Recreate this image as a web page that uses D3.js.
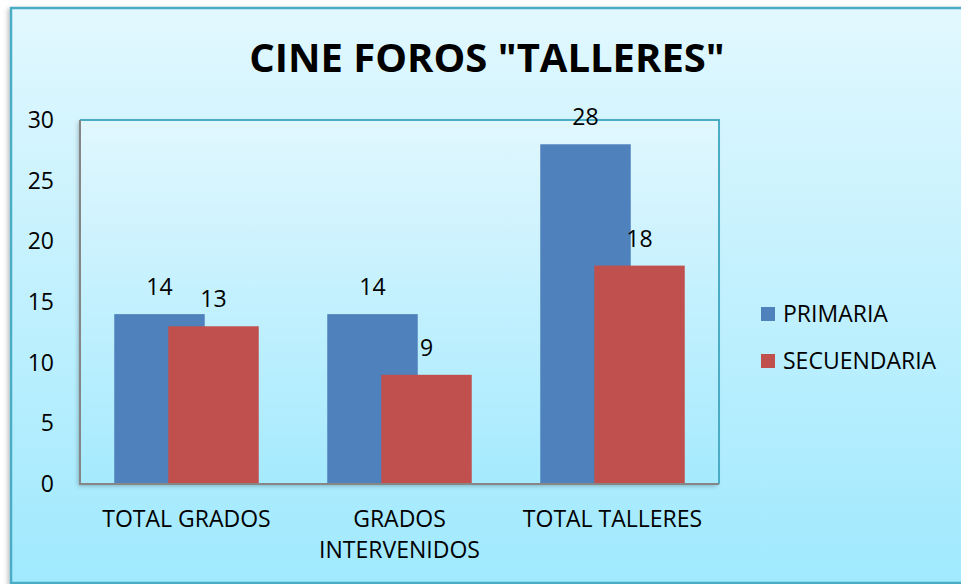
<!DOCTYPE html>
<html>
<head>
<meta charset="utf-8">
<script src="https://cdn.jsdelivr.net/npm/d3@7"></script>
<style>
  body { margin: 0; background: #fff; }
  text { font-family: 'Open Sans', sans-serif; fill: #000; }
</style>
</head>
<body>
<svg id="chart" width="961" height="584"></svg>
<script>
// data
const categories = ['TOTAL GRADOS', 'GRADOS INTERVENIDOS', 'TOTAL TALLERES'];
const seriesNames = ['PRIMARIA', 'SECUENDARIA'];
const primaria = [14, 14, 28];
const secundaria = [13, 9, 18];
const yTicks = [0, 5, 10, 15, 20, 25, 30];
const colors = ['#4f81bd', '#c0504d'];
const title = 'CINE FOROS "TALLERES"';

const svg = d3.select('#chart');
const plot = { left: 80, right: 719, top: 120, bottom: 484 };

const defs = svg.append('defs');
const bg = defs.append('linearGradient').attr('id', 'bg').attr('x1', 0).attr('y1', 0).attr('x2', 0).attr('y2', 1);
bg.append('stop').attr('offset', '0%').attr('stop-color', '#e2f8fe');
bg.append('stop').attr('offset', '100%').attr('stop-color', '#a0e9fe');

const pg = defs.append('linearGradient').attr('id', 'pg').attr('x1', 0).attr('y1', 0).attr('x2', 0).attr('y2', 1);
pg.append('stop').attr('offset', '0%').attr('stop-color', '#e1f7fe');
pg.append('stop').attr('offset', '100%').attr('stop-color', '#a5eafe');

const shadow = defs.append('filter').attr('id', 'shadow').attr('x', '-5%').attr('y', '-5%').attr('width', '110%').attr('height', '110%');
shadow.append('feDropShadow').attr('dx', -2).attr('dy', 2).attr('stdDeviation', 2)
  .attr('flood-color', '#000').attr('flood-opacity', 0.25);

// chart area
svg.append('rect')
  .attr('x', 11).attr('y', 8).attr('width', 960).attr('height', 575)
  .attr('fill', 'url(#bg)')
  .attr('stroke', '#4bacc6').attr('stroke-width', 2.5)
  .attr('filter', 'url(#shadow)');

svg.append('text')
  .attr('x', 487).attr('y', 72)
  .attr('text-anchor', 'middle')
  .style('font-size', '40px').style('font-weight', 'bold')
  .text(title);

// plot area
svg.append('rect')
  .attr('x', plot.left).attr('y', plot.top)
  .attr('width', plot.right - plot.left).attr('height', plot.bottom - plot.top)
  .attr('fill', 'url(#pg)')
  .attr('filter', 'url(#shadow)');
svg.append('path')
  .attr('d', `M${plot.left},${plot.top}H${plot.right}V${plot.bottom}`)
  .attr('fill', 'none').attr('stroke', '#4bacc6').attr('stroke-width', 2);

const x = d3.scaleBand().domain(categories).range([plot.left, plot.right]);
const y = d3.scaleLinear().domain([0, 30]).range([plot.bottom, plot.top]);
const offset = d3.scaleOrdinal().domain(seriesNames).range([-27, 27]);
const barW = 90.5;

const rows = categories.map((c, i) => ({ cat: c, values: [primaria[i], secundaria[i]] }));

seriesNames.forEach((s, si) => {
  const g = svg.append('g');
  g.selectAll('rect')
    .data(rows)
    .join('rect')
    .attr('x', d => x(d.cat) + x.bandwidth() / 2 + offset(s) - barW / 2)
    .attr('y', d => y(d.values[si]))
    .attr('width', barW)
    .attr('height', d => y(0) - y(d.values[si]))
    .attr('fill', colors[si]);
  g.selectAll('text')
    .data(rows)
    .join('text')
    .attr('x', d => x(d.cat) + x.bandwidth() / 2 + offset(s))
    .attr('y', d => y(d.values[si]) - 19)
    .attr('text-anchor', 'middle')
    .style('font-size', '23px')
    .text(d => d.values[si]);
});

// left + bottom plot border (grey) drawn over bars
svg.append('path')
  .attr('d', `M${plot.left},${plot.top}V${plot.bottom}H${plot.right}`)
  .attr('fill', 'none').attr('stroke', '#868686').attr('stroke-width', 2);

// y axis
svg.append('g')
  .attr('transform', `translate(${plot.left},0)`)
  .call(d3.axisLeft(y).tickValues(yTicks).tickSize(0).tickPadding(26))
  .call(g => g.select('.domain').remove())
  .selectAll('text')
  .style('font-size', '23px').style('font-family', "'Open Sans', sans-serif").attr('fill', '#000');

// x labels, wrapped
const xl = svg.append('g').selectAll('text')
  .data(categories)
  .join('text')
  .attr('x', d => x(d) + x.bandwidth() / 2)
  .attr('y', 527)
  .attr('text-anchor', 'middle')
  .style('font-size', '23px');

xl.each(function(d) {
  const t = d3.select(this);
  const words = d.split(' ');
  let line = [];
  let lines = [];
  const probe = t.append('tspan');
  words.forEach(w => {
    const test = line.concat(w).join(' ');
    probe.text(test);
    if (probe.node().getComputedTextLength() > 195 && line.length) {
      lines.push(line.join(' '));
      line = [w];
    } else {
      line.push(w);
    }
  });
  lines.push(line.join(' '));
  probe.remove();
  lines.forEach((l, i) => {
    t.append('tspan').attr('x', t.attr('x')).attr('dy', i === 0 ? 0 : 31).text(l);
  });
});

// legend
const legend = svg.append('g').selectAll('g')
  .data(seriesNames)
  .join('g')
  .attr('transform', (d, i) => `translate(761, ${307 + i * 47})`);
legend.append('rect').attr('width', 14).attr('height', 14).attr('fill', (d, i) => colors[i]);
legend.append('text').attr('x', 22).attr('y', 15).style('font-size', '23px').text(d => d);
</script>
</body>
</html>
